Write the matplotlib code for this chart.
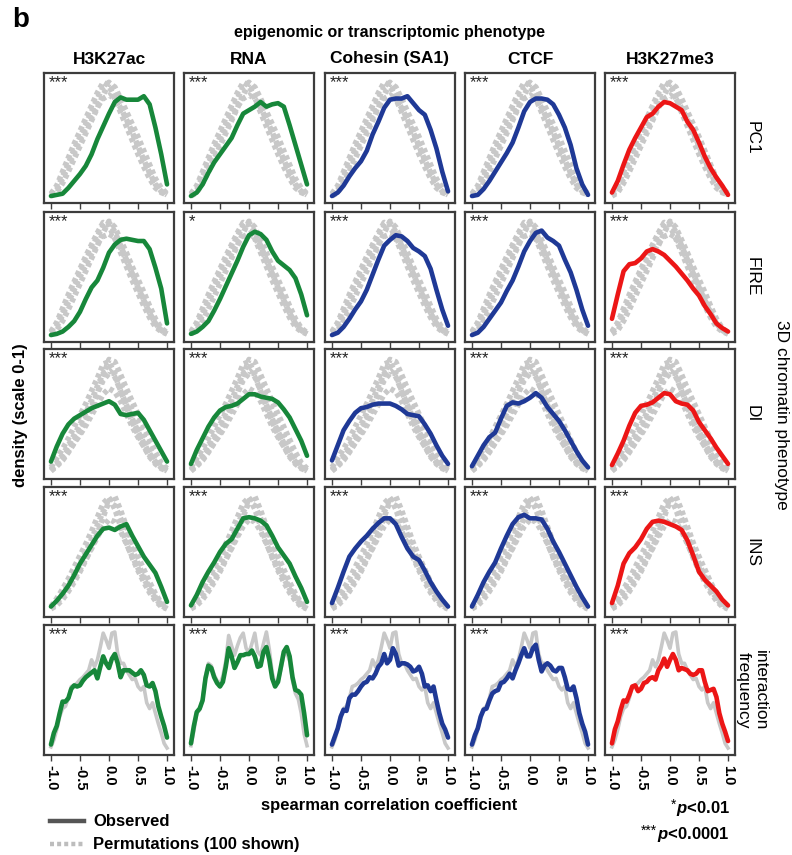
import numpy as np
import matplotlib
matplotlib.use("Agg")
import matplotlib.pyplot as plt
from matplotlib.lines import Line2D

plt.rcParams['font.family'] = ['Liberation Sans', 'DejaVu Sans']
plt.rcParams['mathtext.fontset'] = 'custom'
plt.rcParams['mathtext.rm'] = 'Liberation Sans:bold'
plt.rcParams['mathtext.it'] = 'Liberation Sans:bold:italic'

# phenotypes
columns = ["H3K27ac", "RNA", "Cohesin (SA1)", "CTCF", "H3K27me3"]
rows = ["PC1", "FIRE", "DI", "INS", "interaction\nfrequency"]
col_colors = ["#17873a", "#17873a", "#1f3996", "#1f3996", "#ec1616"]
stars = [["***", "***", "***", "***", "***"],
         ["***", "*", "***", "***", "***"],
         ["***", "***", "***", "***", "***"],
         ["***", "***", "***", "***", "***"],
         ["***", "***", "***", "***", "***"]]
tick_vals = [-1.0, -0.5, 0.0, 0.5, 1.0]
tick_labels = ["-1.0", "-0.5", "0.0", "0.5", "1.0"]

# sample positions of the read-off curves
x_coarse = np.linspace(-1, 1, 21)
x_fine = np.linspace(-1, 1, 41)

# observed densities (scaled 0-1), one list per phenotype column
pc1_obs = [
    [0.00, 0.01, 0.02, 0.07, 0.13, 0.19, 0.26, 0.36, 0.49, 0.60, 0.71, 0.81, 0.85, 0.83, 0.83, 0.83, 0.86, 0.79, 0.59, 0.36, 0.10],
    [0.00, 0.03, 0.10, 0.20, 0.29, 0.36, 0.43, 0.50, 0.61, 0.71, 0.74, 0.77, 0.81, 0.77, 0.79, 0.80, 0.77, 0.61, 0.44, 0.27, 0.10],
    [0.00, 0.03, 0.09, 0.17, 0.24, 0.30, 0.39, 0.53, 0.64, 0.76, 0.83, 0.84, 0.84, 0.86, 0.80, 0.74, 0.70, 0.57, 0.41, 0.21, 0.04],
    [0.00, 0.01, 0.06, 0.13, 0.21, 0.29, 0.37, 0.46, 0.59, 0.73, 0.81, 0.84, 0.84, 0.83, 0.79, 0.70, 0.59, 0.44, 0.24, 0.10, 0.01],
    [0.03, 0.13, 0.27, 0.40, 0.50, 0.59, 0.68, 0.71, 0.77, 0.81, 0.80, 0.77, 0.74, 0.64, 0.57, 0.46, 0.34, 0.24, 0.16, 0.09, 0.01],
]
fire_obs = [
    [0.00, 0.01, 0.03, 0.07, 0.12, 0.20, 0.31, 0.41, 0.47, 0.58, 0.71, 0.78, 0.82, 0.83, 0.82, 0.81, 0.81, 0.74, 0.58, 0.40, 0.10],
    [0.01, 0.03, 0.07, 0.12, 0.21, 0.31, 0.42, 0.53, 0.64, 0.76, 0.86, 0.89, 0.87, 0.82, 0.72, 0.64, 0.60, 0.56, 0.49, 0.35, 0.17],
    [0.00, 0.02, 0.07, 0.14, 0.22, 0.29, 0.39, 0.52, 0.65, 0.77, 0.82, 0.86, 0.85, 0.81, 0.75, 0.72, 0.68, 0.57, 0.39, 0.22, 0.08],
    [0.00, 0.02, 0.07, 0.14, 0.21, 0.28, 0.38, 0.47, 0.59, 0.72, 0.81, 0.88, 0.90, 0.84, 0.81, 0.77, 0.65, 0.54, 0.39, 0.22, 0.08],
    [0.14, 0.35, 0.55, 0.61, 0.62, 0.66, 0.72, 0.74, 0.72, 0.69, 0.64, 0.59, 0.53, 0.47, 0.40, 0.34, 0.25, 0.18, 0.10, 0.06, 0.03],
]
di_obs = [
    [0.09, 0.22, 0.33, 0.41, 0.46, 0.49, 0.52, 0.55, 0.57, 0.59, 0.61, 0.58, 0.50, 0.49, 0.50, 0.51, 0.45, 0.36, 0.27, 0.18, 0.09],
    [0.07, 0.19, 0.29, 0.39, 0.47, 0.53, 0.56, 0.57, 0.59, 0.63, 0.67, 0.67, 0.65, 0.64, 0.63, 0.60, 0.54, 0.47, 0.37, 0.27, 0.14],
    [0.10, 0.23, 0.36, 0.44, 0.51, 0.55, 0.56, 0.58, 0.59, 0.59, 0.59, 0.57, 0.54, 0.50, 0.49, 0.48, 0.41, 0.33, 0.23, 0.14, 0.07],
    [0.05, 0.14, 0.23, 0.30, 0.34, 0.46, 0.57, 0.60, 0.59, 0.61, 0.64, 0.68, 0.64, 0.56, 0.50, 0.44, 0.36, 0.27, 0.18, 0.10, 0.04],
    [0.06, 0.16, 0.27, 0.40, 0.51, 0.57, 0.58, 0.60, 0.64, 0.68, 0.67, 0.61, 0.59, 0.58, 0.53, 0.43, 0.36, 0.29, 0.21, 0.14, 0.07],
]
ins_obs = [
    [0.03, 0.08, 0.14, 0.21, 0.30, 0.40, 0.48, 0.56, 0.64, 0.70, 0.71, 0.69, 0.72, 0.74, 0.64, 0.55, 0.46, 0.39, 0.32, 0.20, 0.07],
    [0.04, 0.13, 0.24, 0.33, 0.41, 0.50, 0.57, 0.61, 0.70, 0.79, 0.80, 0.79, 0.77, 0.73, 0.64, 0.54, 0.47, 0.40, 0.29, 0.19, 0.07],
    [0.06, 0.19, 0.33, 0.46, 0.53, 0.59, 0.64, 0.70, 0.75, 0.79, 0.79, 0.74, 0.63, 0.53, 0.46, 0.43, 0.34, 0.24, 0.16, 0.09, 0.03],
    [0.03, 0.13, 0.24, 0.33, 0.41, 0.53, 0.64, 0.74, 0.80, 0.82, 0.79, 0.79, 0.78, 0.70, 0.59, 0.50, 0.40, 0.30, 0.20, 0.11, 0.03],
    [0.06, 0.21, 0.40, 0.49, 0.54, 0.61, 0.70, 0.76, 0.77, 0.76, 0.74, 0.72, 0.69, 0.60, 0.47, 0.33, 0.26, 0.21, 0.16, 0.09, 0.04],
]
freq_obs = [
    [0.03, 0.13, 0.19, 0.30, 0.40, 0.40, 0.43, 0.51, 0.54, 0.53, 0.54, 0.58, 0.61, 0.63, 0.65, 0.67, 0.60, 0.70, 0.79, 0.73, 0.69,
     0.77, 0.81, 0.73, 0.61, 0.67, 0.67, 0.67, 0.65, 0.63, 0.64, 0.67, 0.63, 0.54, 0.53, 0.56, 0.49, 0.36, 0.27, 0.19, 0.09],
    [0.04, 0.19, 0.31, 0.34, 0.41, 0.60, 0.71, 0.69, 0.61, 0.56, 0.53, 0.57, 0.70, 0.86, 0.79, 0.69, 0.74, 0.80, 0.80, 0.81, 0.81,
     0.84, 0.79, 0.70, 0.71, 0.83, 0.87, 0.76, 0.60, 0.53, 0.57, 0.70, 0.83, 0.87, 0.79, 0.61, 0.50, 0.49, 0.46, 0.30, 0.11],
    [0.03, 0.10, 0.17, 0.27, 0.33, 0.32, 0.43, 0.46, 0.46, 0.49, 0.53, 0.56, 0.57, 0.61, 0.60, 0.64, 0.70, 0.73, 0.81, 0.73, 0.76,
     0.86, 0.81, 0.71, 0.73, 0.73, 0.72, 0.70, 0.66, 0.67, 0.70, 0.64, 0.53, 0.54, 0.49, 0.53, 0.41, 0.30, 0.21, 0.16, 0.09],
    [0.03, 0.11, 0.17, 0.27, 0.33, 0.34, 0.41, 0.47, 0.49, 0.50, 0.56, 0.57, 0.60, 0.64, 0.60, 0.67, 0.73, 0.80, 0.86, 0.79, 0.79,
     0.86, 0.89, 0.76, 0.66, 0.71, 0.73, 0.71, 0.67, 0.66, 0.69, 0.69, 0.61, 0.51, 0.50, 0.53, 0.43, 0.30, 0.21, 0.14, 0.03],
    [0.04, 0.16, 0.23, 0.33, 0.41, 0.40, 0.46, 0.53, 0.54, 0.49, 0.51, 0.56, 0.57, 0.60, 0.61, 0.59, 0.67, 0.71, 0.77, 0.70, 0.76,
     0.81, 0.76, 0.67, 0.69, 0.68, 0.67, 0.64, 0.63, 0.64, 0.67, 0.67, 0.57, 0.49, 0.50, 0.51, 0.44, 0.30, 0.21, 0.14, 0.06],
]

# permutation curves (edges and inner curves)
pc1_perm = [
    [0.02, 0.09, 0.21, 0.33, 0.45, 0.56, 0.67, 0.78, 0.89, 0.98, 0.95, 0.84, 0.72, 0.60, 0.48, 0.36, 0.25, 0.15, 0.07, 0.03, 0.01],
    [0.00, 0.03, 0.11, 0.21, 0.32, 0.43, 0.54, 0.65, 0.76, 0.87, 0.97, 0.94, 0.84, 0.73, 0.62, 0.51, 0.39, 0.27, 0.15, 0.07, 0.02],
    [0.01, 0.05, 0.15, 0.26, 0.37, 0.48, 0.58, 0.68, 0.77, 0.84, 0.87, 0.84, 0.76, 0.66, 0.55, 0.43, 0.31, 0.20, 0.10, 0.04, 0.01],
    [0.01, 0.06, 0.17, 0.28, 0.40, 0.51, 0.62, 0.73, 0.84, 0.94, 0.98, 0.90, 0.78, 0.67, 0.55, 0.43, 0.31, 0.20, 0.10, 0.04, 0.01],
]
fire_perm = [
    [0.03, 0.11, 0.23, 0.35, 0.46, 0.57, 0.68, 0.78, 0.88, 0.97, 0.94, 0.83, 0.71, 0.59, 0.47, 0.36, 0.25, 0.15, 0.07, 0.03, 0.01],
    [0.01, 0.04, 0.12, 0.22, 0.33, 0.44, 0.55, 0.66, 0.77, 0.88, 0.98, 0.93, 0.82, 0.71, 0.59, 0.48, 0.37, 0.25, 0.14, 0.06, 0.02],
    [0.02, 0.07, 0.17, 0.28, 0.39, 0.50, 0.60, 0.70, 0.79, 0.85, 0.87, 0.84, 0.75, 0.64, 0.53, 0.42, 0.30, 0.19, 0.10, 0.04, 0.01],
    [0.02, 0.08, 0.19, 0.30, 0.42, 0.53, 0.64, 0.75, 0.85, 0.94, 0.97, 0.89, 0.77, 0.65, 0.53, 0.41, 0.30, 0.19, 0.10, 0.04, 0.01],
]
di_perm = [
    [0.04, 0.12, 0.20, 0.29, 0.39, 0.49, 0.59, 0.70, 0.81, 0.93, 0.95, 0.84, 0.70, 0.56, 0.43, 0.32, 0.22, 0.13, 0.07, 0.03, 0.01],
    [0.01, 0.05, 0.10, 0.17, 0.25, 0.34, 0.44, 0.55, 0.68, 0.83, 0.97, 0.95, 0.84, 0.72, 0.61, 0.50, 0.39, 0.28, 0.17, 0.08, 0.03],
    [0.02, 0.06, 0.12, 0.18, 0.25, 0.32, 0.40, 0.49, 0.58, 0.67, 0.72, 0.69, 0.61, 0.50, 0.39, 0.30, 0.22, 0.14, 0.08, 0.04, 0.01],
    [0.02, 0.08, 0.15, 0.23, 0.32, 0.41, 0.51, 0.62, 0.74, 0.85, 0.88, 0.82, 0.70, 0.58, 0.46, 0.35, 0.25, 0.16, 0.09, 0.04, 0.01],
    [0.01, 0.06, 0.12, 0.20, 0.28, 0.37, 0.47, 0.57, 0.68, 0.79, 0.85, 0.85, 0.76, 0.65, 0.53, 0.42, 0.31, 0.21, 0.12, 0.05, 0.02],
]
ins_perm = [
    [0.03, 0.10, 0.18, 0.27, 0.37, 0.47, 0.57, 0.68, 0.80, 0.92, 0.97, 0.87, 0.72, 0.58, 0.45, 0.34, 0.24, 0.15, 0.08, 0.03, 0.01],
    [0.01, 0.04, 0.09, 0.16, 0.24, 0.33, 0.43, 0.54, 0.66, 0.80, 0.94, 0.98, 0.86, 0.72, 0.58, 0.46, 0.35, 0.24, 0.14, 0.06, 0.02],
    [0.02, 0.06, 0.12, 0.19, 0.27, 0.35, 0.44, 0.53, 0.63, 0.72, 0.78, 0.76, 0.68, 0.57, 0.46, 0.36, 0.27, 0.18, 0.10, 0.04, 0.01],
    [0.02, 0.07, 0.14, 0.22, 0.31, 0.40, 0.50, 0.61, 0.73, 0.85, 0.92, 0.90, 0.79, 0.65, 0.52, 0.40, 0.29, 0.19, 0.11, 0.05, 0.01],
]
freq_perm = [
    0.01, 0.07, 0.16, 0.27, 0.34, 0.36, 0.43, 0.53, 0.54, 0.56, 0.59, 0.61, 0.64, 0.67, 0.76, 0.70, 0.76, 0.87, 0.99, 0.93, 0.86,
    0.99, 1.00, 0.81, 0.73, 0.73, 0.67, 0.63, 0.59, 0.60, 0.53, 0.50, 0.53, 0.39, 0.34, 0.39, 0.30, 0.21, 0.13, 0.04, 0.00]
freq_perm_rna = [
    0.02, 0.15, 0.30, 0.33, 0.42, 0.62, 0.73, 0.71, 0.63, 0.58, 0.55, 0.62, 0.75, 0.97, 0.88, 0.80, 0.88, 0.95, 0.99, 0.86, 0.82,
    0.90, 0.99, 0.83, 0.80, 0.90, 1.00, 0.85, 0.65, 0.55, 0.57, 0.68, 0.80, 0.82, 0.75, 0.58, 0.47, 0.42, 0.30, 0.12, 0.02]

observed = [pc1_obs, fire_obs, di_obs, ins_obs, freq_obs]
permuted = [pc1_perm, fire_perm, di_perm, ins_perm]

W, H = 792, 855
fig = plt.figure(figsize=(W / 100, H / 100), dpi=100)

col_left = [44, 184, 325, 465, 605]
row_top = [73, 212, 349, 487, 625]
pw, ph = 130, 130
perm_color = "#c8c8c8"

for r in range(5):
    for c in range(5):
        ax = fig.add_axes([col_left[c] / W, 1 - (row_top[r] + ph) / H, pw / W, ph / H])
        if r < 4:
            for curve in permuted[r]:
                ax.plot(x_coarse, curve, color=perm_color, lw=4.0, ls=(0, (0.8, 0.6)),
                        solid_capstyle="butt", zorder=1)
            ax.plot(x_coarse, observed[r][c], color=col_colors[c], lw=3.3,
                    solid_joinstyle="round", solid_capstyle="round", zorder=3)
        else:
            gray = freq_perm_rna if c == 1 else freq_perm
            ax.plot(x_fine, gray, color=perm_color, lw=2.6, zorder=1)
            ax.plot(x_fine, observed[r][c], color=col_colors[c], lw=3.3,
                    solid_joinstyle="round", solid_capstyle="round", zorder=3)
        ax.set_xlim(-1.12, 1.12)
        ax.set_ylim(-0.06, 1.06)
        ax.set_yticks([])
        ax.set_xticks(tick_vals)
        ax.tick_params(axis="x", length=4, width=1.0, color="#404040", direction="out", pad=3)
        if r == 4:
            ax.set_xticklabels(tick_labels, rotation=-90, fontsize=10.5, color="black",
                               fontweight="bold")
        else:
            ax.set_xticklabels([])
        for sp in ax.spines.values():
            sp.set_color("#3c3c3c")
            sp.set_linewidth(1.6)
        ax.text(0.04, 0.925, stars[r][c], transform=ax.transAxes, fontsize=12,
                color="#222222", va="center", ha="left")

def fx(px):
    return px / W

def fy(py):
    return 1 - py / H

fig.text(fx(12), fy(20), "b", fontsize=20, fontweight="bold", ha="left", va="center")
fig.text(fx(389), fy(32), "epigenomic or transcriptomic phenotype", fontsize=11.5,
         fontweight="bold", ha="center", va="center")
for c, name in enumerate(columns):
    fig.text(fx(col_left[c] + pw / 2), fy(59), name, fontsize=12.5, fontweight="bold",
             ha="center", va="center")
for r, name in enumerate(rows):
    fig.text(fx(752), fy(row_top[r] + ph / 2), name, fontsize=12.5, rotation=-90,
             ha="center", va="center", multialignment="center")
fig.text(fx(781), fy(415), "3D chromatin phenotype", fontsize=12.5, rotation=-90,
         ha="center", va="center")
fig.text(fx(21), fy(415), "density (scale 0-1)", fontsize=12, fontweight="bold",
         rotation=90, ha="center", va="center")
fig.text(fx(389), fy(805), "spearman correlation coefficient", fontsize=12,
         fontweight="bold", ha="center", va="center")

# legend
fig.add_artist(Line2D([fx(50), fx(84)], [fy(821), fy(821)], color="#555555", lw=3.2))
fig.add_artist(Line2D([fx(50), fx(84)], [fy(844), fy(844)], color="#bdbdbd", lw=3.2,
                      ls=(0, (0.9, 0.7))))
fig.text(fx(93), fy(821), "Observed", fontsize=12, fontweight="bold", ha="left", va="center")
fig.text(fx(93), fy(844), "Permutations (100 shown)", fontsize=12, fontweight="bold",
         ha="left", va="center")

# significance key
renderer = fig.canvas.get_renderer()
for py, sym, thr in [(808, "*", "<0.01"), (834, "***", "<0.0001")]:
    t = fig.text(fx(730), fy(py), r"$\it{p}$" + thr, fontsize=12, fontweight="bold",
                 ha="right", va="center")
    bb = t.get_window_extent(renderer)
    fig.text(bb.x0 / W, fy(py - 3), sym, fontsize=10, ha="right", va="center")

fig.savefig("out.png", dpi=100)
